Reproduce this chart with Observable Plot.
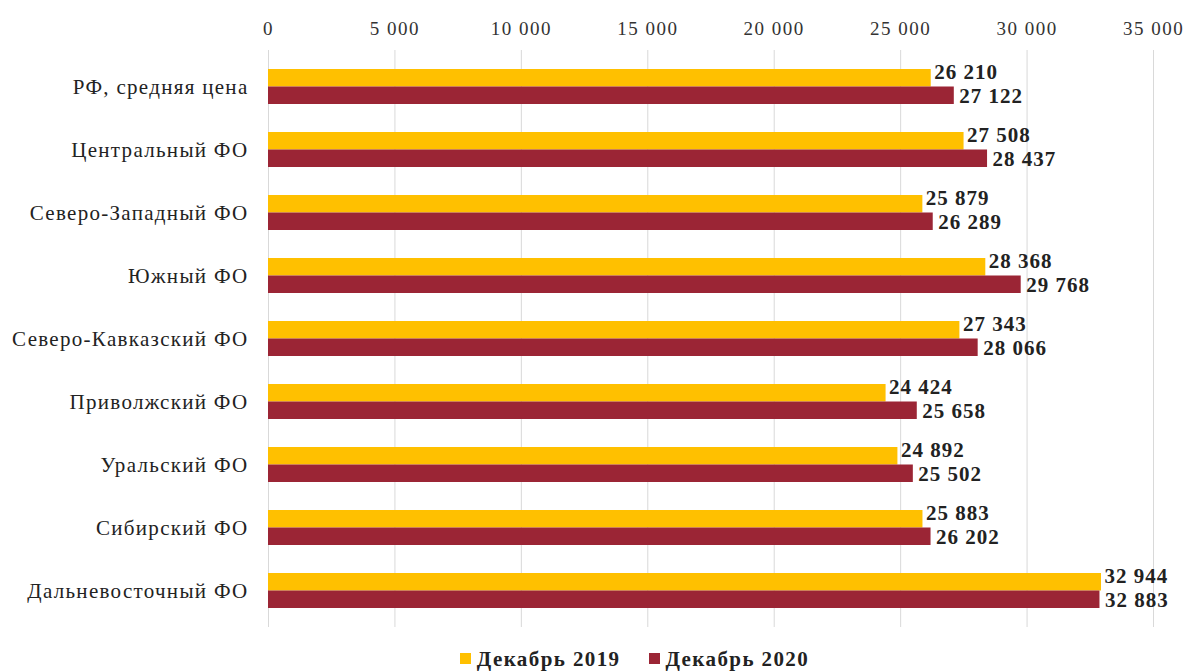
<!DOCTYPE html>
<html>
<head>
<meta charset="utf-8">
<script src="https://cdn.jsdelivr.net/npm/d3@7"></script>
<script src="https://cdn.jsdelivr.net/npm/@observablehq/plot@0.6"></script>
<style>
  body { margin: 0; background: #fff; font-family: "Liberation Serif", "Times New Roman", serif; }
  #chart svg g[aria-label="y-axis tick label"] { letter-spacing: 1.3px; }
  #chart svg g[aria-label="x-axis tick label"] { letter-spacing: 1.5px; }
  #chart svg g[aria-label="text"] { letter-spacing: 1px; }
  #legend { display: flex; justify-content: center; gap: 28px; padding-left: 80px; margin-top: 6px; font-weight: bold; font-size: 21px; letter-spacing: 1.4px; color: #222; line-height: 26px; }
  #legend span.sw { display: inline-block; width: 11px; height: 11px; margin-right: 6px; vertical-align: 2px; }
</style>
</head>
<body>
<div id="chart"></div>
<div id="legend"></div>
<script>
const regions = ["РФ, средняя цена","Центральный ФО","Северо-Западный ФО","Южный ФО","Северо-Кавказский ФО","Приволжский ФО","Уральский ФО","Сибирский ФО","Дальневосточный ФО"];
const dec2019 = [26210,27508,25879,28368,27343,24424,24892,25883,32944];
const dec2020 = [27122,28437,26289,29768,28066,25658,25502,26202,32883];
const xTicks = [0,5000,10000,15000,20000,25000,30000,35000];
const seriesNames = ["Декабрь 2019","Декабрь 2020"];
const colors = ["#FFC000","#9B2535"];

const loc = d3.formatLocale({decimal: ",", thousands: "\u00a0", grouping: [3]});
const fmt = loc.format(",d");

const d19 = regions.map((r,i) => ({region: r, value: dec2019[i]}));
const d20 = regions.map((r,i) => ({region: r, value: dec2020[i]}));

const chart = Plot.plot({
  width: 1189,
  height: 640,
  marginLeft: 268,
  marginRight: 36,
  marginTop: 50,
  marginBottom: 13,
  style: {fontFamily: "'Liberation Serif', 'Times New Roman', serif", background: "#fff"},
  x: {domain: [0, 35000], axis: null},
  y: {domain: regions, paddingInner: 0.45, paddingOuter: 0.26, axis: null},
  marks: [
    Plot.ruleX(xTicks, {stroke: "#d9d9d9", strokeWidth: 1}),
    Plot.axisX(xTicks, {anchor: "top", label: null, tickSize: 0, tickPadding: 16, tickFormat: fmt, fontSize: 19, fill: "#333"}),
    Plot.axisY({anchor: "left", label: null, tickSize: 0, tickPadding: 20, fontSize: 21, fill: "#222"}),
    Plot.barX(d19, {x: "value", y: "region", fill: colors[0], insetBottom: 17.5}),
    Plot.barX(d20, {x: "value", y: "region", fill: colors[1], insetTop: 17.5}),
    Plot.text(d19, {x: "value", y: "region", text: d => fmt(d.value), textAnchor: "start", dx: 3, dy: -15, fontSize: 21, fontWeight: "bold", fill: "#222"}),
    Plot.text(d20, {x: "value", y: "region", text: d => fmt(d.value), textAnchor: "start", dx: 5, dy: 9, fontSize: 21, fontWeight: "bold", fill: "#222"})
  ]
});
document.getElementById("chart").appendChild(chart);

const legend = document.getElementById("legend");
seriesNames.forEach((n,i) => {
  const item = document.createElement("div");
  const sw = document.createElement("span");
  sw.className = "sw";
  sw.style.background = colors[i];
  item.appendChild(sw);
  item.appendChild(document.createTextNode(n));
  legend.appendChild(item);
});
</script>
</body>
</html>
